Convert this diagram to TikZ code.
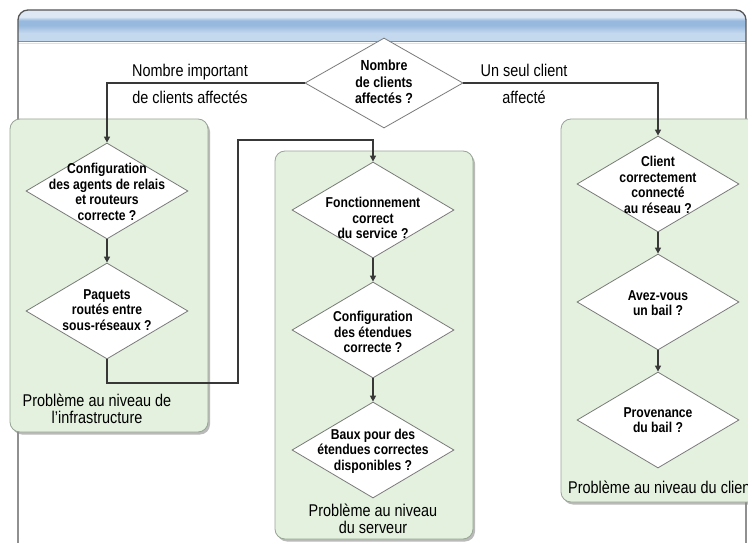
\documentclass[tikz,border=0pt]{standalone}
\usepackage{fontspec}
\setmainfont{Liberation Sans}
\newfontfamily\narrowfont[FakeStretch=0.85]{Liberation Sans}
\usetikzlibrary{shapes.geometric,shadows,arrows.meta}

\definecolor{frameline}{HTML}{555555}
\definecolor{hdrtop}{HTML}{DDE8F4}
\definecolor{hdrmid}{HTML}{98B9DE}
\definecolor{hdrbot}{HTML}{C4D8EE}
\definecolor{panelfill}{HTML}{E3F1DE}
\definecolor{panelline}{HTML}{98A596}
\definecolor{diamline}{HTML}{7A7A7A}
\definecolor{connline}{HTML}{383838}

% title band: light at the top, blue in the middle, lighter again at the bottom
\pgfdeclareverticalshading{titleband}{100bp}{%
  color(0bp)=(hdrbot); color(38bp)=(hdrbot); color(50bp)=(hdrmid);
  color(58bp)=(hdrmid); color(64bp)=(hdrtop); color(100bp)=(hdrtop)}

\newcommand\qfont{\narrowfont\bfseries\fontsize{14.3}{15.5}\selectfont}
\newcommand\topqfont{\narrowfont\bfseries\fontsize{14.6}{16.5}\selectfont}
\newcommand\lblfont{\narrowfont\fontsize{17}{27}\selectfont}
\newcommand\zonefont{\narrowfont\fontsize{17}{17.5}\selectfont}

\tikzset{
  panel/.style={draw=panelline, line width=0.8pt, fill=panelfill, rounded corners=10pt,
    drop shadow={shadow xshift=2pt, shadow yshift=-2.5pt, fill=black!45, opacity=0.6}},
  decision/.style={shape=diamond, draw=diamline, line width=0.8pt, fill=white,
    inner sep=0pt, minimum width=162pt, minimum height=96pt},
  qtext/.style={align=center, font=\qfont, inner sep=0pt},
  conn/.style={draw=connline, line width=1.8pt,
    -{Triangle[length=6pt,width=6pt]}},
  lbl/.style={align=center, font=\lblfont, inner sep=0pt},
  zone/.style={align=center, font=\zonefont, inner sep=0pt},
}

\begin{document}
\begin{tikzpicture}[x=1pt, y=-1pt]
\useasboundingbox (0,0) rectangle (748,543);
\clip (0,0) rectangle (748,543);
\fill[white] (0,0) rectangle (748,543);

% window frame with blue title band
\begin{scope}
  \clip[rounded corners=10pt] (18,10) rectangle (746,620);
  \shade[shading=titleband] (18,10) rectangle (746,41);
\end{scope}
\draw[black!45, line width=1.5pt] (18,41.5) -- (746,41.5);
\draw[black!12, line width=1.5pt] (18,43.5) -- (746,43.5);
\draw[frameline, line width=1.3pt, rounded corners=10pt] (18,620) -- (18,10) -- (746,10) -- (746,620);

% zone panels
\path[panel] (10,119) rectangle (208,432);
\path[panel] (275,151) rectangle (473,539);
\path[panel] (561,119) rectangle (790,502);

% top decision
\node[decision, minimum width=158pt, minimum height=90pt] (T) at (384,83) {};
\node[qtext, font=\topqfont] (Tt) at (384,82) {Nombre\\de clients\\affectés ?};

% infrastructure zone
\node[decision] (D1) at (107,191) {};
\node[qtext] (D1t) at (107,192) {Configuration\\des agents de relais\\et routeurs\\correcte ?};
\node[decision] (D2) at (107,311) {};
\node[qtext] (D2t) at (107,310) {Paquets\\routés entre\\sous-réseaux ?};
\node[zone] (Zinf) at (97,409) {Problème au niveau de\\l’infrastructure};

% server zone
\node[decision] (M1) at (373,210) {};
\node[qtext] (M1t) at (373,218) {Fonctionnement\\correct\\du service ?};
\node[decision] (M2) at (373,330) {};
\node[qtext] (M2t) at (373,332) {Configuration\\des étendues\\correcte ?};
\node[decision] (M3) at (373,450) {};
\node[qtext] (M3t) at (373,451) {Baux pour des\\étendues correctes\\disponibles ?};
\node[zone] (Zsrv) at (373,519) {Problème au niveau\\du serveur};

% client zone
\node[decision] (R1) at (658,184) {};
\node[qtext] (R1t) at (658,185) {Client\\correctement\\connecté\\au réseau ?};
\node[decision] (R2) at (658,302) {};
\node[qtext] (R2t) at (658,303) {Avez-vous\\un bail ?};
\node[decision] (R3) at (658,420) {};
\node[qtext] (R3t) at (658,420) {Provenance\\du bail ?};
\node[zone, anchor=west] (Zcli) at (568,487) {Problème au niveau du client};

% branch labels
\node[lbl] (Lmany) at (190,84) {Nombre important\\de clients affectés};
\node[lbl] (Lone) at (524,84) {Un seul client\\affecté};

% connectors
\coordinate (b1) at (238,383);
\coordinate (b2) at (238,140);
\path[conn] (T.west) -| (D1.north);
\path[conn] (T.east) -| (R1.north);
\path[conn] (D1.south) -- (D2.north);
\path[conn] (D2.south) |- (b1) -- (b2) -| (M1.north);
\path[conn] (M1.south) -- (M2.north);
\path[conn] (M2.south) -- (M3.north);
\path[conn] (R1.south) -- (R2.north);
\path[conn] (R2.south) -- (R3.north);
\end{tikzpicture}
\end{document}
